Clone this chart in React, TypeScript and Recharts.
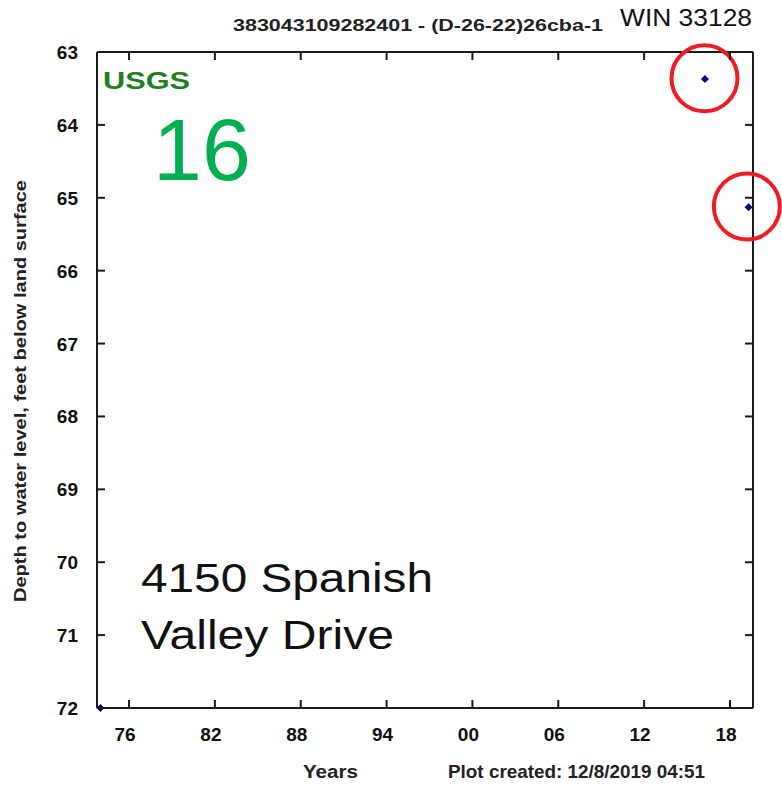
import { ReferenceDot, ReferenceLine, Scatter, ScatterChart, XAxis, YAxis } from "recharts";

// water-level measurements (decimal year, feet below land surface)
const years = [1974.0, 2016.25, 2019.3];
const depths = [72.0, 63.37, 65.13];
const circled = [1, 2]; // measurements ringed in red
const circleCenters = [
  { x: 2016.22, y: 63.36 },
  { x: 2019.18, y: 65.12 },
];

const xTicks = [1976, 1982, 1988, 1994, 2000, 2006, 2012, 2018];
const yTicks = [63, 64, 65, 66, 67, 68, 69, 70, 71, 72];
const xDomain = [1973.76, 2019.61];
const yDomain = [63, 72];

const data = years.map((year, i) => ({ year, depth: depths[i] }));

const W = 782;
const H = 787;
const MARGIN = { top: 52, right: 29, bottom: 39, left: 37 };
const PLOT_W = 656;
const PLOT_H = 656;
const FONT = "'Liberation Sans', Arial, Helvetica, sans-serif";
const AXIS = "#1a1a1a";

const twoDigit = (v: number) => String(v % 100).padStart(2, "0");

// bottom tick: inward tick on bottom and top edge + label
function BottomTick({ x, y, payload }: any) {
  return (
    <g>
      <line x1={x} x2={x} y1={y} y2={y - 8} stroke={AXIS} strokeWidth={2} />
      <line x1={x} x2={x} y1={y - PLOT_H} y2={y - PLOT_H + 8} stroke={AXIS} strokeWidth={2} />
      <text x={x - 4} y={y + 33} textAnchor="middle" fontSize={19} fontWeight="bold" fontFamily={FONT} fill="#111">
        {twoDigit(payload.value)}
      </text>
    </g>
  );
}

// left tick: inward tick on left and right edge + label
function LeftTick({ x, y, payload }: any) {
  return (
    <g>
      <line x1={x} x2={x + 8} y1={y} y2={y} stroke={AXIS} strokeWidth={2} />
      <line x1={x + PLOT_W} x2={x + PLOT_W - 8} y1={y} y2={y} stroke={AXIS} strokeWidth={2} />
      <text x={x - 19} y={y + 7} textAnchor="end" fontSize={19} fontWeight="bold" fontFamily={FONT} fill="#111">
        {payload.value}
      </text>
    </g>
  );
}

function Diamond({ cx, cy }: any) {
  const r = 4;
  return <path d={`M${cx},${cy - r}L${cx + r},${cy}L${cx},${cy + r}L${cx - r},${cy}Z`} fill="#000080" />;
}

export default function App() {
  return (
    <div style={{ position: "absolute", left: 0, top: 0, width: W, height: H, background: "#fff" }}>
      <ScatterChart width={W} height={H} margin={MARGIN}>
        <XAxis
          dataKey="year"
          type="number"
          domain={xDomain}
          ticks={xTicks}
          tick={<BottomTick />}
          tickLine={false}
          tickSize={0}
          tickMargin={0}
          height={40}
          axisLine={{ stroke: AXIS, strokeWidth: 2 }}
        />
        <YAxis
          dataKey="depth"
          type="number"
          domain={yDomain}
          reversed
          ticks={yTicks}
          tick={<LeftTick />}
          tickLine={false}
          tickSize={0}
          tickMargin={0}
          width={60}
          axisLine={{ stroke: AXIS, strokeWidth: 2 }}
        />
        <ReferenceLine x={xDomain[1]} stroke={AXIS} strokeWidth={2} ifOverflow="visible" />
        <ReferenceLine y={yDomain[0]} stroke={AXIS} strokeWidth={2} ifOverflow="visible" />
        <Scatter data={data} shape={<Diamond />} isAnimationActive={false} />
        {circled.map((idx, i) => (
          <ReferenceDot
            key={idx}
            x={circleCenters[i].x}
            y={circleCenters[i].y}
            r={33}
            fill="none"
            stroke="#ee1c25"
            strokeWidth={4}
            ifOverflow="visible"
          />
        ))}
      </ScatterChart>
      <svg
        width={W}
        height={H}
        style={{ position: "absolute", left: 0, top: 0, pointerEvents: "none" }}
        fontFamily={FONT}
      >
        <text x={233} y={31} fontSize={17} fontWeight="bold" fill="#222" textLength={370} lengthAdjust="spacingAndGlyphs">
          383043109282401 - (D-26-22)26cba-1
        </text>
        <text x={620} y={26} fontSize={23} fill="#111" textLength={132} lengthAdjust="spacingAndGlyphs">
          WIN 33128
        </text>
        <text x={103} y={89} fontSize={24} fontWeight="bold" fill="#1f7f1f" textLength={87} lengthAdjust="spacingAndGlyphs">
          USGS
        </text>
        <text x={153} y={180} fontSize={88} fill="#00b050">
          16
        </text>
        <text x={141} y={592} fontSize={40} fill="#111" textLength={292} lengthAdjust="spacingAndGlyphs">
          4150 Spanish
        </text>
        <text x={141} y={649} fontSize={40} fill="#111" textLength={253} lengthAdjust="spacingAndGlyphs">
          Valley Drive
        </text>
        <text
          x={26}
          y={391}
          transform="rotate(-90 26 391)"
          textAnchor="middle"
          fontSize={17}
          fontWeight="bold"
          fill="#222"
          textLength={422}
          lengthAdjust="spacingAndGlyphs"
        >
          Depth to water level, feet below land surface
        </text>
        <text x={303} y={778} fontSize={19} fontWeight="bold" fill="#222" textLength={55} lengthAdjust="spacingAndGlyphs">
          Years
        </text>
        <text x={448} y={778} fontSize={19} fontWeight="bold" fill="#222" textLength={257} lengthAdjust="spacingAndGlyphs">
          Plot created: 12/8/2019 04:51
        </text>
      </svg>
    </div>
  );
}
